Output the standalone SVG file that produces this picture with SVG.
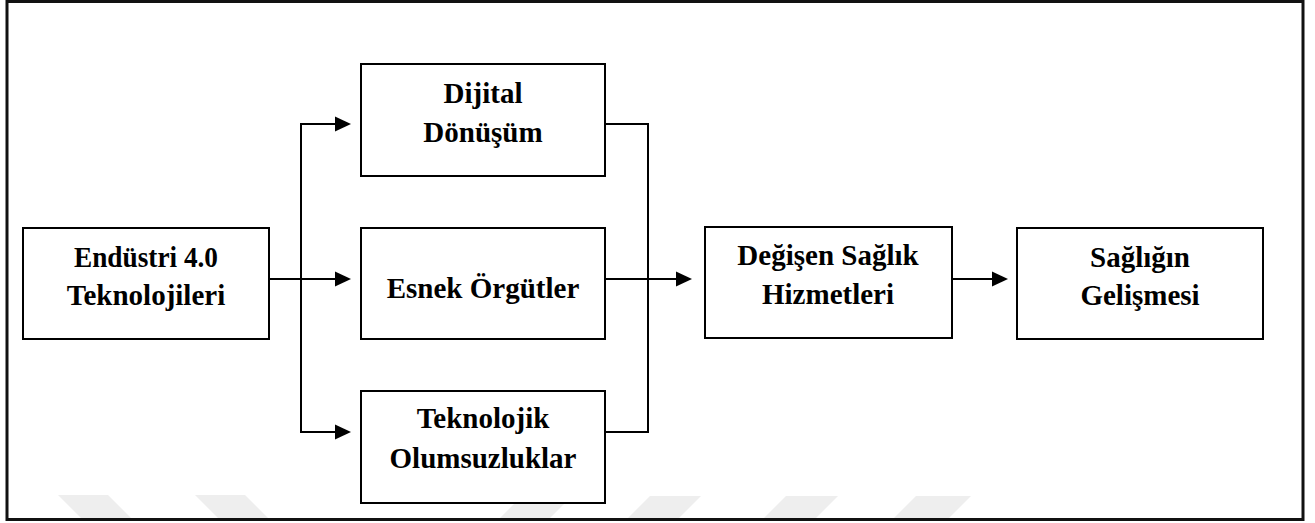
<svg xmlns="http://www.w3.org/2000/svg" width="1315" height="523" viewBox="0 0 1315 523">
<style>
.box{fill:#fff;stroke:#000;stroke-width:2}
.lbl{font-family:"Liberation Serif","Times New Roman",serif;font-weight:bold;font-size:29px;fill:#000;text-anchor:middle}
.con{fill:none;stroke:#000;stroke-width:2}
.wm{fill:#eeeeee}
</style>
<defs>
<marker id="ah" markerUnits="userSpaceOnUse" markerWidth="16" markerHeight="16" refX="0" refY="7.5" orient="auto" viewBox="0 0 16 15">
<path d="M0,0 L16,7.5 L0,15 z" fill="#000"/>
</marker>
</defs>
<rect x="0" y="0" width="1315" height="523" fill="#fff"/>
<g id="watermark">
<polygon class="wm" points="58,495 108,495 132,519 82,519"/>
<polygon class="wm" points="195,495 245,495 269,519 219,519"/>
<polygon class="wm" points="522,496 572,496 549,519 499,519"/>
<polygon class="wm" points="650,496 701,496 678,519 627,519"/>
<polygon class="wm" points="786,496 838,496 815,519 763,519"/>
<polygon class="wm" points="916,496 971,496 948,519 893,519"/>
</g>
<rect id="frame" x="7" y="1.5" width="1296" height="518" fill="none" stroke="#111" stroke-width="3"/>
<g id="connectors">
<path class="con" d="M269,279 H335" marker-end="url(#ah)"/>
<path class="con" d="M335,124 H301 V432 H335"/>
<path class="con" d="M301,124 H335" marker-end="url(#ah)"/>
<path class="con" d="M301,432 H335" marker-end="url(#ah)"/>
<path class="con" d="M605,124 H648 V432 H605"/>
<path class="con" d="M605,279 H676" marker-end="url(#ah)"/>
<path class="con" d="M952,279 H992" marker-end="url(#ah)"/>
</g>
<g id="endustri">
<rect class="box" x="23" y="228" width="246" height="111"/>
<text class="lbl" x="146" y="267" textLength="144" lengthAdjust="spacingAndGlyphs">Endüstri 4.0</text>
<text class="lbl" x="146" y="305">Teknolojileri</text>
</g>
<g id="dijital">
<rect class="box" x="361" y="64" width="244" height="112"/>
<text class="lbl" x="483" y="103">Dijital</text>
<text class="lbl" x="483" y="141.5">Dönüşüm</text>
</g>
<g id="esnek">
<rect class="box" x="361" y="228" width="244" height="111"/>
<text class="lbl" x="483" y="298">Esnek Örgütler</text>
</g>
<g id="teknolojik">
<rect class="box" x="361" y="391" width="244" height="112"/>
<text class="lbl" x="483" y="428">Teknolojik</text>
<text class="lbl" x="483" y="468">Olumsuzluklar</text>
</g>
<g id="degisen">
<rect class="box" x="705" y="227" width="247" height="111"/>
<text class="lbl" x="828" y="265">Değişen Sağlık</text>
<text class="lbl" x="828" y="304">Hizmetleri</text>
</g>
<g id="sagligin">
<rect class="box" x="1017" y="228" width="246" height="111"/>
<text class="lbl" x="1140" y="267">Sağlığın</text>
<text class="lbl" x="1140" y="305">Gelişmesi</text>
</g>
</svg>
